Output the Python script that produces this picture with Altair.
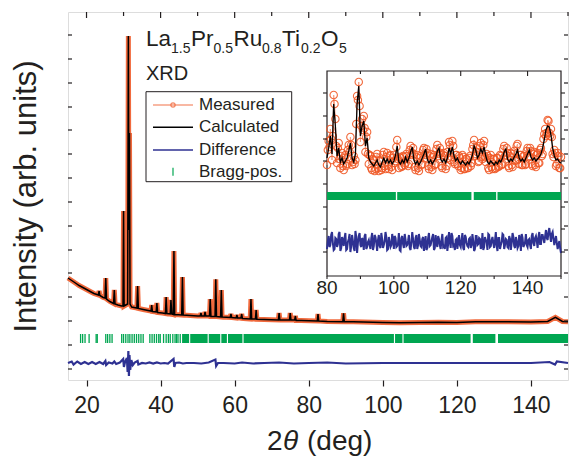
import altair as alt
import pandas as pd

FONT = "Liberation Sans"
INK = "#231F20"
ORANGE = "#F05A28"
SALMON = "#F6A085"
NAVY = "#2E3192"
GREEN = "#00A651"

# ---------------- main pattern (2theta, intensity in arbitrary units) ----------------
profile = [
    (15, 102), (16, 99.5), (17, 97), (18, 94.5), (19, 92.5), (20, 90.5), (21, 88.5), (22, 86.5),
    (23.2, 85), (23.4, 89), (23.6, 84.5), (24.5, 82.5), (25.0, 82), (25.2, 102), (25.4, 81),
    (26.3, 78.5), (27.3, 76.5), (27.5, 90), (27.7, 76), (28.5, 75), (29.5, 74), (29.85, 74),
    (30.0, 169), (30.15, 74), (30.6, 75), (31.1, 76), (31.3, 344), (31.45, 150), (31.6, 247),
    (31.75, 76), (32.2, 73), (33.6, 72), (33.8, 94), (34.0, 71.5), (35.3, 70.5), (37.4, 69),
    (37.6, 75), (37.8, 68.5), (38.8, 68), (39.0, 77), (39.2, 67.5), (40.5, 67), (41.3, 66.5),
    (41.5, 83), (41.7, 66.5), (42.6, 66), (42.8, 80), (43.0, 66), (43.4, 65.5), (43.6, 129),
    (43.8, 65.5), (45.7, 65), (45.9, 103), (46.1, 65), (48.0, 64.5), (50.0, 64), (50.7, 64),
    (50.9, 67), (51.1, 64), (51.8, 64), (52.0, 68), (52.2, 64), (53.2, 64), (53.4, 81),
    (53.6, 63.5), (54.7, 63.5), (54.9, 100.7), (55.1, 63.5), (56.2, 63), (56.4, 90), (56.6, 63),
    (57.8, 62.7), (58.8, 62.5), (59.0, 66), (59.2, 62.5), (60.4, 62), (60.6, 65), (60.8, 62),
    (61.7, 62), (61.9, 66), (62.1, 61.5), (64.2, 61), (64.4, 81), (64.6, 61), (65.6, 61),
    (65.8, 70), (66.0, 60.7), (68.0, 60.5), (71.8, 60), (72.0, 67), (72.2, 60), (74.8, 60),
    (75.0, 67), (75.2, 60), (76.2, 60), (76.4, 64), (76.6, 59.5), (78.0, 59.5), (82.3, 59),
    (82.5, 66), (82.7, 59), (85.0, 58.5), (89.2, 58.3), (89.4, 66.7), (89.6, 58.3), (92, 58.3),
    (100, 57.5), (104.5, 57.3), (110, 57.5), (115, 57.8), (120, 57.5), (125, 58.2),
    (131.4, 58.3), (140, 58), (144.5, 58.5), (146.6, 62.7), (148.5, 58.5), (150, 58.3),
]
prof_x = [p[0] for p in profile]
prof_y = [p[1] for p in profile]

difference = [
    (15, 17), (16, 18.5), (16.5, 15.5), (17.5, 18.5), (18.5, 16), (19.5, 18), (20.5, 16),
    (21.5, 18), (22.5, 16), (23.5, 18), (24.5, 16), (25.1, 19), (25.3, 15), (26, 17.5),
    (27, 16.5), (27.5, 18.5), (28, 16), (29, 17.5), (29.9, 21), (30.1, 13), (30.4, 18),
    (30.9, 22), (31.1, 8), (31.3, 29), (31.45, 4), (31.6, 25), (31.8, 10), (32.1, 20),
    (32.5, 15), (33, 17.5), (33.8, 19), (34, 15.5), (35, 17), (36, 16.5), (37, 17.5),
    (38, 16.5), (39, 17.5), (40, 16.5), (41, 17), (42, 16.5), (43.5, 21), (43.7, 13),
    (44, 17), (45, 17.5), (46, 16.5), (47, 17), (49, 17), (51, 16.5), (53, 17.5), (54.8, 20.5),
    (55, 14), (55.5, 17), (57, 17), (60, 16.5), (62, 17.5), (65, 16.5), (68, 17), (72, 17.5),
    (76, 16.5), (80, 17), (85, 17.5), (90, 16.5), (100, 17), (110, 17), (120, 17), (130, 17),
    (140, 17), (145, 18), (146.5, 15.5), (147, 18.5), (150, 17),
]
diff_x = [p[0] for p in difference]
diff_y = [p[1] for p in difference]

bragg_pos = [18.4, 18.95, 19.6, 20.7, 22.6, 22.9, 25.2, 25.7, 26.3, 26.9, 29.5, 30.0, 30.6,
             31.2, 31.7, 32.3, 32.9, 33.5, 34.1, 34.7, 35.3, 37.1, 37.7, 38.3, 38.9, 39.5,
             39.9, 40.8, 41.5, 42.1, 42.6, 43.3, 43.9, 44.3, 44.7, 45.3]
bragg_dense_start = [45.8, 48.0, 53.0, 56.4, 58.2, 62.4, 103.3, 105.6, 124.3, 131.1]
bragg_dense_end = [47.7, 52.7, 56.1, 57.9, 62.1, 103.0, 105.3, 123.7, 130.4, 150.0]

main_yticks = [11, 35, 59, 83, 107, 130, 154, 178, 202, 226, 250, 273, 297, 321, 345]
top_major = [20, 40, 60, 80, 100, 120, 140]
top_minor = [30, 50, 70, 90, 110, 130, 150]

# ---------------- inset (80-150 deg) ----------------
inset_x = [80 + 0.5 * i for i in range(141)]        # 80.0, 80.5, ... 150.0
inset_x_mid = [80.25 + 0.5 * i for i in range(140)]  # 80.25, 80.75, ... 149.75
inset_obs = [
    111, 135, 147, 116, 181, 157, 113, 133, 108, 123,
    106, 121, 112, 131, 139, 111, 120, 116, 180, 194,
    134, 157, 160, 124, 144, 112, 120, 106, 116, 107,
    122, 105, 115, 108, 124, 107, 123, 107, 121, 106,
    121, 115, 136, 108, 118, 110, 119, 113, 120, 112,
    130, 123, 122, 106, 121, 105, 120, 112, 128, 121,
    123, 107, 122, 106, 121, 112, 131, 122, 123, 108,
    123, 107, 124, 134, 116, 135, 114, 121, 112, 120,
    106, 121, 107, 117, 108, 118, 110, 127, 136, 120,
    124, 115, 133, 117, 135, 114, 120, 106, 121, 107,
    117, 108, 118, 110, 120, 112, 130, 121, 123, 108,
    123, 109, 125, 116, 132, 112, 121, 111, 120, 112,
    128, 120, 125, 110, 124, 109, 123, 113, 128, 122,
    142, 140, 156, 143, 147, 122, 126, 110, 123, 108,
    119,
]
inset_obs_mid = [
    126, 129, 137, 140, 172, 130, 128, 117, 120, 110,
    118, 110, 126, 124, 131, 114, 112, 152, 176, 170,
    150, 146, 148, 139, 122, 121, 108, 117, 105, 119,
    108, 116, 106, 121, 110, 119, 110, 120, 109, 118,
    113, 129, 117, 119, 109, 120, 111, 122, 110, 126,
    121, 128, 109, 119, 108, 118, 111, 126, 118, 127,
    110, 120, 109, 119, 111, 127, 120, 128, 110, 121,
    120, 110, 118, 131, 119, 130, 112, 121, 110, 118,
    108, 119, 107, 117, 108, 120, 113, 131, 122, 128,
    114, 130, 119, 131, 119, 122, 108, 118, 109, 117,
    107, 118, 109, 121, 111, 127, 120, 128, 110, 120,
    111, 122, 115, 130, 117, 121, 111, 120, 111, 125,
    119, 128, 112, 122, 111, 121, 113, 126, 120, 137,
    147, 143, 155, 140, 139, 119, 123, 112, 120, 108,
]
inset_calc = [
    118, 128, 140, 122, 172, 150, 120, 128, 114, 118,
    112, 115, 118, 125, 133, 118, 114, 122, 172, 190,
    140, 150, 155, 130, 138, 118, 114, 112, 110, 113,
    116, 111, 109, 114, 118, 113, 117, 113, 116, 112,
    115, 121, 130, 114, 112, 116, 113, 119, 114, 118,
    124, 129, 116, 112, 115, 111, 114, 118, 122, 127,
    117, 113, 116, 112, 115, 118, 125, 128, 117, 114,
    117, 113, 118, 128, 122, 129, 120, 115, 118, 114,
    112, 115, 113, 111, 114, 112, 116, 121, 130, 126,
    118, 121, 127, 123, 129, 120, 114, 112, 115, 113,
    111, 114, 112, 116, 114, 118, 124, 127, 117, 114,
    117, 115, 119, 122, 126, 118, 115, 117, 114, 118,
    122, 126, 119, 116, 118, 115, 117, 119, 122, 128,
    136, 146, 150, 149, 141, 128, 120, 116, 117, 114,
    113,
]
inset_diff = [
    27, 40, 31, 44, 26, 38, 29, 42, 25, 39,
    30, 43, 27, 37, 24, 41, 28, 45, 23, 40,
    31, 38, 26, 42, 29, 36, 27, 43, 30, 39,
    25, 41, 28, 37, 31, 44, 26, 39, 29, 42,
    27, 38, 30, 43, 25, 40, 28, 36, 31, 41,
    26, 44, 29, 38, 27, 42, 30, 37, 25, 40,
    28, 43, 31, 39, 26, 41, 29, 37, 27, 42,
    30, 38, 25, 44, 28, 40, 31, 36, 27, 41,
    29, 43, 26, 39, 30, 37, 28, 42, 25, 40,
    31, 38, 27, 43, 29, 36, 26, 41, 30, 39,
    28, 44, 25, 38, 31, 42, 27, 37, 29, 40,
    26, 43, 30, 39, 28, 41, 25, 38, 31, 42,
    29, 37, 27, 43, 30, 40, 28, 44, 32, 41,
    33, 46, 36, 48, 34, 44, 31, 40, 27, 35,
    23,
]
inset_diff_mid = [
    35, 29, 41, 33, 27, 37, 32, 44, 28, 36,
    38, 26, 34, 42, 30, 35, 25, 39, 33, 43,
    29, 36, 40, 27, 34, 31, 38, 26, 41, 33,
    36, 30, 43, 28, 35, 39, 27, 34, 31, 37,
    40, 29, 33, 26, 38, 32, 42, 30, 35, 28,
    34, 37, 27, 41, 31, 36, 29, 39, 33, 26,
    38, 30, 35, 42, 28, 33, 40, 31, 36, 29,
    27, 39, 32, 35, 43, 30, 26, 37, 34, 31,
    36, 28, 41, 33, 29, 38, 31, 35, 27, 40,
    32, 37, 30, 26, 39, 34, 42, 29, 36, 33,
    35, 30, 38, 27, 34, 41, 31, 36, 28, 37,
    33, 39, 28, 35, 30, 37, 42, 29, 34, 31,
    36, 31, 40, 33, 38, 35, 39, 32, 41, 37,
    40, 38, 44, 41, 42, 37, 36, 33, 31, 28,
]
inset_bragg_start = [80.0, 101.0, 123.9, 131.0]
inset_bragg_end = [100.6, 123.2, 130.6, 150.0]
inset_yticks = [24, 47, 69, 92, 115, 137, 160, 183]
inset_top_major = [100, 120, 140]
inset_top_minor = [90, 110, 130]
inset_bottom_ticks = [80, 90, 100, 110, 120, 130, 140, 150]
inset_labels = [80, 100, 120, 140]

legend_labels = ["Measured", "Calculated", "Difference", "Bragg-pos."]

W, H = 500, 368
one = pd.DataFrame({"a": [0]})

# ---------------- main group ----------------
xm = alt.Scale(domain=[15, 150], nice=False, zero=False)
ym = alt.Scale(domain=[0, 368], nice=False, zero=False)
xaxis = alt.Axis(values=list(range(20, 151, 10)),
                 labelExpr="datum.value % 20 == 0 ? datum.label : ''",
                 tickSize=6, tickColor=INK, tickWidth=1.2, domain=False, grid=False,
                 labelFontSize=23, labelFont=FONT, labelColor=INK, labelPadding=8,
                 title="")
yaxis = alt.Axis(labels=False, ticks=False, domain=False, grid=False,
                 title="Intensity (arb. units)", titleFont=FONT, titleFontSize=31,
                 titleFontWeight="normal", titleColor=INK, titlePadding=26)

prof_df = pd.DataFrame({"x": prof_x, "y": prof_y})
meas = alt.Chart(prof_df).mark_line(color=ORANGE, strokeWidth=5, opacity=0.9).encode(
    x=alt.X("x:Q", scale=xm, axis=xaxis), y=alt.Y("y:Q", scale=ym, axis=yaxis))
calc = alt.Chart(prof_df).mark_line(color="black", strokeWidth=1.5).encode(x="x:Q", y="y:Q")
diff = alt.Chart(pd.DataFrame({"x": diff_x, "y": diff_y})).mark_line(
    color=NAVY, strokeWidth=2.2).encode(x="x:Q", y="y:Q")
bragg = alt.Chart(pd.DataFrame({"x": bragg_pos})).mark_rule(color=GREEN, strokeWidth=1.3).encode(
    x="x:Q", y=alt.datum(37), y2=alt.datum(46))
bragg_dense = alt.Chart(pd.DataFrame({"x": bragg_dense_start, "x2": bragg_dense_end})).mark_rect(
    color=GREEN).encode(x="x:Q", x2="x2:Q", y=alt.datum(37), y2=alt.datum(46))

lt = alt.Chart(pd.DataFrame({"y": main_yticks})).mark_rule(color=INK, strokeWidth=1.2).encode(
    x=alt.value(0), x2=alt.value(4), y="y:Q")
rt = alt.Chart(pd.DataFrame({"y": main_yticks})).mark_rule(color=INK, strokeWidth=1.2).encode(
    x=alt.value(W - 4), x2=alt.value(W), y="y:Q")
tmaj = alt.Chart(pd.DataFrame({"x": top_major})).mark_rule(color=INK, strokeWidth=1.2).encode(
    x="x:Q", y=alt.value(0), y2=alt.value(6))
tmin = alt.Chart(pd.DataFrame({"x": top_minor})).mark_rule(color=INK, strokeWidth=1.2).encode(
    x="x:Q", y=alt.value(0), y2=alt.value(4))


def txt(s, x, y, size, style="normal", align="left"):
    return alt.Chart(one).mark_text(text=s, font=FONT, fontSize=size, fontStyle=style,
                                    color=INK, align=align, baseline="alphabetic").encode(
        x=alt.value(x), y=alt.value(y))


# x title: 2θ (deg) with italic theta
xt = [txt("2", 199, 438, 28), txt("θ", 215, 438, 28, "italic"), txt("(deg)", 239, 438, 28)]

# formula and label
formula = [
    txt("La", 78, 34, 22.5), txt("1.5", 103, 41, 14), txt("Pr", 123, 34, 22.5),
    txt("0.5", 145.5, 41, 14), txt("Ru", 165.5, 34, 22.5), txt("0.8", 194, 41, 14),
    txt("Ti", 214, 34, 22.5), txt("0.2", 233, 41, 14), txt("O", 253, 34, 22.5),
    txt("5", 271, 41, 14), txt("XRD", 78, 68, 20),
]

# legend
box = alt.Chart(one).mark_rect(fill="white", stroke=INK, strokeWidth=1).encode(
    x=alt.value(78), x2=alt.value(223.7), y=alt.value(79.7), y2=alt.value(169.7))
rows_y = [93, 115.3, 138, 159.7]
leg = [box,
       alt.Chart(one).mark_rule(color=SALMON, strokeWidth=1.6).encode(
           x=alt.value(85), x2=alt.value(125), y=alt.value(rows_y[0])),
       alt.Chart(one).mark_point(shape="circle", filled=False, color=ORANGE, size=18,
                                 strokeWidth=1.2).encode(x=alt.value(105), y=alt.value(rows_y[0])),
       alt.Chart(one).mark_rule(color="black", strokeWidth=1.6).encode(
           x=alt.value(85), x2=alt.value(125), y=alt.value(rows_y[1])),
       alt.Chart(one).mark_rule(color=NAVY, strokeWidth=1.6).encode(
           x=alt.value(85), x2=alt.value(125), y=alt.value(rows_y[2])),
       alt.Chart(one).mark_rule(color=GREEN, strokeWidth=1.2).encode(
           x=alt.value(105), y=alt.value(rows_y[3] - 4), y2=alt.value(rows_y[3] + 4)),
       ]
for lab, ry in zip(legend_labels, rows_y):
    leg.append(alt.Chart(one).mark_text(text=lab, font=FONT, fontSize=17, color=INK,
                                        align="left", baseline="middle").encode(
        x=alt.value(131), y=alt.value(ry)))

main = alt.layer(meas, calc, diff, bragg, bragg_dense, lt, rt, tmaj, tmin, *xt, *formula, *leg)

# ---------------- inset group ----------------
xi = alt.Scale(domain=[80, 150], range=[259, 493], nice=False, zero=False)
yi = alt.Scale(domain=[0, 205], range=[264, 59], nice=False, zero=False)

frame = alt.Chart(pd.DataFrame({"x": [80], "x2": [150], "y": [0], "y2": [205]})).mark_rect(
    fill="white", stroke=INK, strokeWidth=1.2).encode(
    x=alt.X("x:Q", scale=xi, axis=None), x2="x2:Q",
    y=alt.Y("y:Q", scale=yi, axis=None), y2="y2:Q")
ins_df = pd.DataFrame({"x": inset_x + inset_x_mid, "y": inset_obs + inset_obs_mid})
ins_line = alt.Chart(ins_df).mark_line(color=SALMON, strokeWidth=1).encode(x="x:Q", y="y:Q")
ins_pts = alt.Chart(ins_df).mark_point(shape="circle", filled=False, color=ORANGE, size=55,
                                       strokeWidth=1.1, opacity=0.9).encode(x="x:Q", y="y:Q")
ins_calc = alt.Chart(pd.DataFrame({"x": inset_x, "y": inset_calc})).mark_line(
    color="black", strokeWidth=1.3).encode(x="x:Q", y="y:Q")
ins_diff = alt.Chart(pd.DataFrame({"x": inset_x + inset_x_mid,
                                   "y": inset_diff + inset_diff_mid})).mark_line(
    color=NAVY, strokeWidth=2.0).encode(x="x:Q", y="y:Q")
ins_bragg = alt.Chart(pd.DataFrame({"x": inset_bragg_start, "x2": inset_bragg_end})).mark_rect(
    color=GREEN).encode(x="x:Q", x2="x2:Q", y=alt.datum(76), y2=alt.datum(84))
ilt = alt.Chart(pd.DataFrame({"y": inset_yticks})).mark_rule(color=INK, strokeWidth=1.1).encode(
    x=alt.value(255), x2=alt.value(259), y="y:Q")
irt = alt.Chart(pd.DataFrame({"y": inset_yticks})).mark_rule(color=INK, strokeWidth=1.1).encode(
    x=alt.value(493), x2=alt.value(497), y="y:Q")
itmaj = alt.Chart(pd.DataFrame({"x": inset_top_major})).mark_rule(color=INK, strokeWidth=1.1).encode(
    x="x:Q", y=alt.value(59), y2=alt.value(64))
itmin = alt.Chart(pd.DataFrame({"x": inset_top_minor})).mark_rule(color=INK, strokeWidth=1.1).encode(
    x="x:Q", y=alt.value(59), y2=alt.value(62))
ibt = alt.Chart(pd.DataFrame({"x": inset_bottom_ticks})).mark_rule(color=INK, strokeWidth=1.1).encode(
    x="x:Q", y=alt.value(264), y2=alt.value(267))
ilab = alt.Chart(pd.DataFrame({"x": inset_labels})).mark_text(
    font=FONT, fontSize=19, color=INK, align="center", baseline="alphabetic").encode(
    x="x:Q", y=alt.value(282), text="x:Q")

inset = alt.layer(frame, ins_bragg, ins_diff, ins_line, ins_pts, ins_calc,
                  ilt, irt, itmaj, itmin, ibt, ilab)

chart = alt.layer(main, inset).resolve_scale(x="independent", y="independent").properties(
    width=W, height=H,
    padding={"left": 68, "top": 12, "right": 1, "bottom": 79},
    autosize=alt.AutoSizeParams(type="none"),
).configure_view(stroke=INK, strokeWidth=1.3).configure(font=FONT)

chart.save("out.html", embed_options={"renderer": "svg", "actions": False})
